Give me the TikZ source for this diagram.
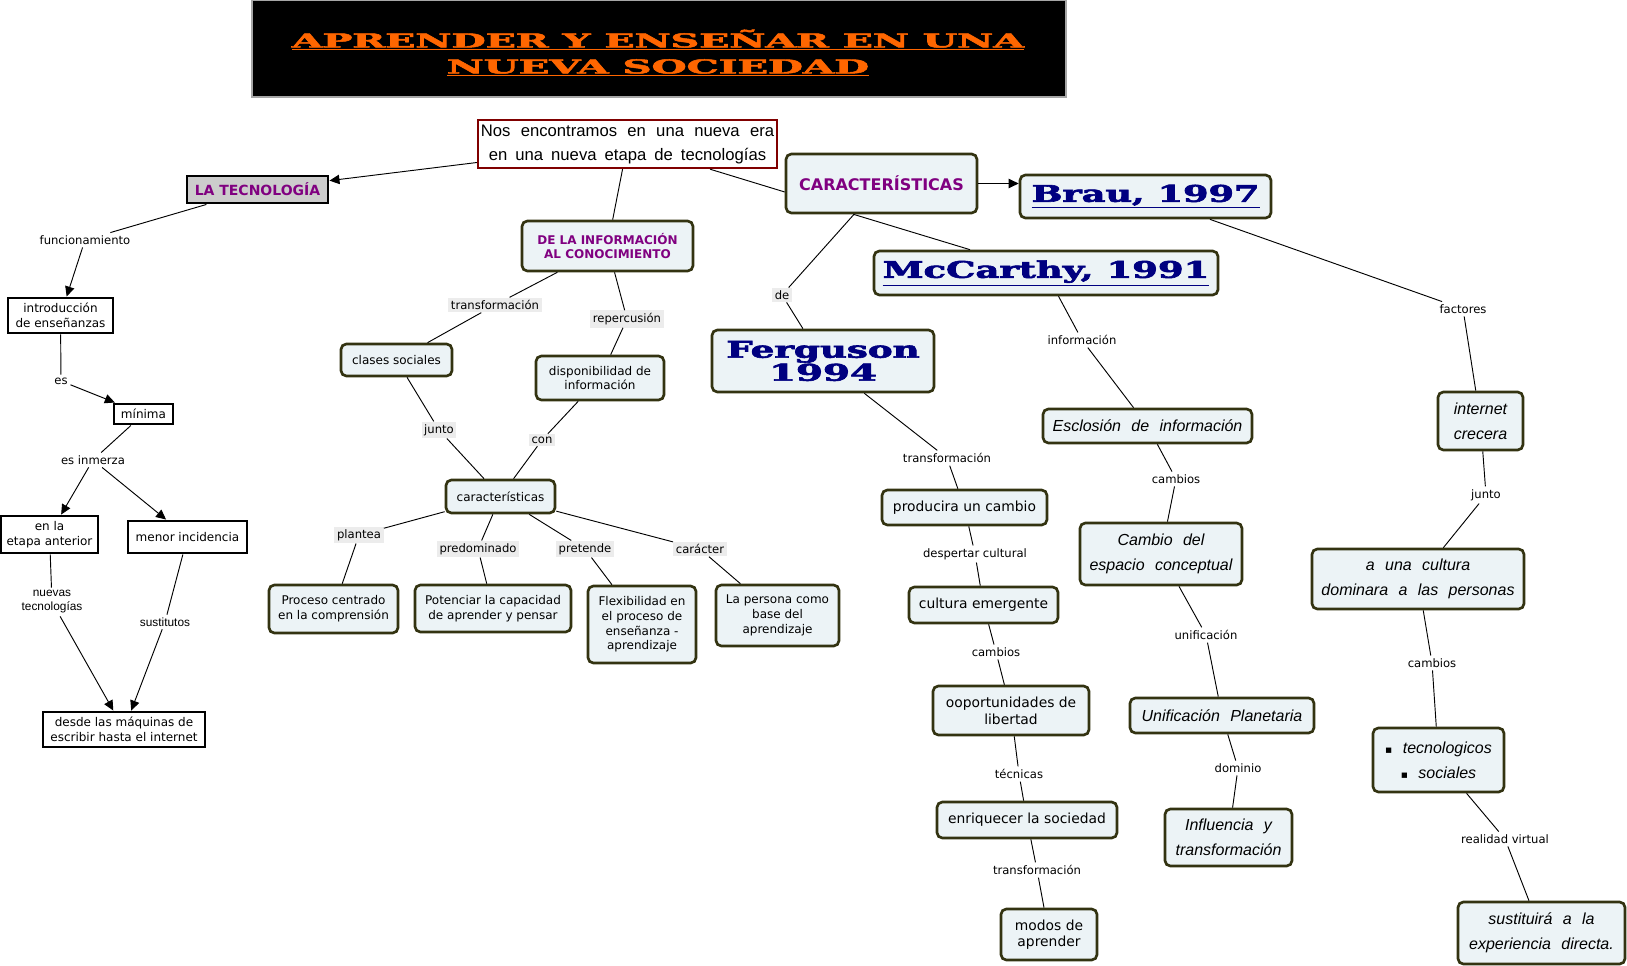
\documentclass[tikz,border=0pt]{standalone}
\usepackage{fontspec}
\setmainfont{DejaVu Sans}
\newfontfamily\arialfont{Liberation Sans}
\newfontfamily\slabfont{DejaVu Serif}[BoldFeatures={FakeBold=2.5}]
\usepackage{graphicx}
\usepackage{xcolor}
\usetikzlibrary{arrows.meta, calc}

\definecolor{titleOrange}{RGB}{255,102,0}
\definecolor{conceptFill}{RGB}{236,243,246}
\definecolor{conceptLine}{RGB}{51,51,17}
\definecolor{rootLine}{RGB}{128,0,0}
\definecolor{headPurple}{RGB}{128,0,128}
\definecolor{citeNavy}{RGB}{0,0,128}
\definecolor{lblFill}{RGB}{236,236,236}
\definecolor{tecFill}{RGB}{204,204,204}

\newcommand\gap{\hspace{0.65em}}

\tikzset{
    % sizes are given in pixels of the original map
    boxSize/.style 2 args={minimum width=#1*0.75pt, minimum height=#2*0.75pt},
    % Boxes
    titleBox/.style={rectangle, fill=black, draw=gray!70, line width=1pt, inner sep=0pt},
    titleText/.style={align=center, inner sep=0pt, text=titleOrange,
                      font=\slabfont\bfseries\fontsize{14.3}{19.5}\selectfont},
    rootBox/.style={rectangle, draw=rootLine, line width=1.8pt, fill=white, align=center,
                    inner sep=0pt, font=\arialfont\fontsize{12.5}{18}\selectfont},
    plainBox/.style={rectangle, draw=black, line width=2.2pt, fill=white, align=center,
                     inner sep=0pt, font=\fontsize{9}{11}\selectfont},
    tecBox/.style={plainBox, fill=tecFill, text=headPurple,
                   font=\bfseries\fontsize{10.5}{12}\selectfont},
    concept/.style={rectangle, rounded corners=4pt, line width=2pt, draw=conceptLine,
                    fill=conceptFill, align=center, inner sep=0pt,
                    font=\fontsize{9}{11}\selectfont},
    head/.style={concept, text=headPurple, font=\bfseries\fontsize{9}{10.5}\selectfont},
    bigText/.style={font=\fontsize{10.4}{12.5}\selectfont},
    ital/.style={font=\arialfont\itshape\fontsize{12}{18.5}\selectfont},
    cite/.style={concept, text=citeNavy, font=\slabfont\bfseries\fontsize{17.2}{17.25}\selectfont},
    % Links & labels
    lbl/.style={inner sep=2pt, font=\fontsize{8.7}{10.5}\selectfont, align=center},
    lblGray/.style={lbl, fill=lblFill},
    lblArial/.style={lbl, font=\arialfont\fontsize{8.9}{10.5}\selectfont},
    flow/.style={line width=0.7pt, black},
    flowArrow/.style={flow, -{Triangle[length=7.5pt, width=7pt]}}
}

\begin{document}
\begin{tikzpicture}[x=0.75pt, y=-0.75pt]
\useasboundingbox (0,0) rectangle (1627,966);

% title
\node[titleBox, boxSize={814}{97}] (title) at (659,48.5) {};
\node[titleText] (titleLines) at (658,53)
    {\resizebox{549pt}{\height}{\underline{APRENDER Y ENSEÑAR EN UNA}}\\
     \resizebox{316.5pt}{\height}{\underline{NUEVA SOCIEDAD}}};

\node[rootBox, boxSize={299}{48}] (root) at (627.5,144)
    {\makebox[220pt][s]{Nos encontramos en una nueva era}\\
     \makebox[208pt][s]{en una nueva etapa de tecnologías}};

% left branch
\node[tecBox, boxSize={141}{27}] (tec) at (257.5,189.5) {LA TECNOLOGÍA};
\node[plainBox, boxSize={105}{35}] (intro) at (60.5,315.5) {introducción\\de enseñanzas};
\node[plainBox, boxSize={59}{20}] (minima) at (143.5,414) {mínima};
\node[plainBox, boxSize={97}{37}] (enLa) at (49.5,534.5) {en la\\etapa anterior};
\node[plainBox, boxSize={119}{32}] (menor) at (187.5,537) {menor incidencia};
\node[plainBox, boxSize={162}{35}] (desde) at (124,729.5) {desde las máquinas de\\escribir hasta el internet};

\node[lbl] (lFunc) at (85,240) {funcionamiento};
\node[lbl] (lEs) at (61,381) {es};
\node[lbl] (lInmerza) at (93,460) {es inmerza};
\node[lblArial] (lNuevas) at (52,602) {nuevas\\tecnologías};
\node[lblArial] (lSust) at (165,622) {sustitutos};

\draw[flowArrow] (root) -- (tec);
\draw[flow] (tec) -- (lFunc);
\draw[flowArrow] (lFunc) -- (intro);
\draw[flow] (intro) -- (lEs);
\draw[flowArrow] (lEs) -- (minima);
\draw[flow] (minima) -- (lInmerza);
\draw[flowArrow] (lInmerza) -- (enLa);
\draw[flowArrow] (lInmerza) -- (menor);
\draw[flow] (enLa) -- (lNuevas);
\draw[flowArrow] (lNuevas) -- (desde);
\draw[flow] (menor) -- (lSust);
\draw[flowArrow] (lSust) -- (desde);

% middle branch
\node[head, boxSize={171}{50}] (deLa) at (607.5,246) {DE LA INFORMACIÓN\\AL CONOCIMIENTO};
\node[concept, boxSize={111}{32}] (clases) at (396.5,360) {clases sociales};
\node[concept, boxSize={128}{44}] (dispon) at (600,378) {disponibilidad de\\información};
\node[concept, boxSize={109}{33}] (caract) at (500.5,496.5) {características};
\node[concept, boxSize={129}{48}] (proceso) at (333.5,609) {Proceso centrado\\en la comprensión};
\node[concept, boxSize={156}{47}] (potenciar) at (493,608.5) {Potenciar la capacidad\\de aprender y pensar};
\node[concept, boxSize={108}{77}] (flexib) at (642,624.5) {Flexibilidad en\\el proceso de\\enseñanza -\\aprendizaje};
\node[concept, boxSize={123}{61}] (persona) at (777.5,615.5) {La persona como\\base del\\aprendizaje};

\node[lblGray] (lTransfA) at (495,305) {transformación};
\node[lblGray] (lReperc) at (627,319) {repercusión};
\node[lblGray] (lJuntoA) at (439,430) {junto};
\node[lblGray] (lCon) at (542,440) {con};
\node[lblGray] (lPlantea) at (359,535) {plantea};
\node[lblGray] (lPredom) at (478,549) {predominado};
\node[lblGray] (lPretende) at (585,549) {pretende};
\node[lblGray] (lCaracter) at (700,549) {carácter};

\draw[flow] (root) -- (deLa);
\draw[flow] (deLa) -- (lTransfA) (lTransfA) -- (clases);
\draw[flow] (deLa) -- (lReperc) (lReperc) -- (dispon);
\draw[flow] (clases) -- (lJuntoA) (lJuntoA) -- (caract);
\draw[flow] (dispon) -- (lCon) (lCon) -- (caract);
\draw[flow] (caract) -- (lPlantea) (lPlantea) -- (proceso);
\draw[flow] (caract) -- (lPredom) (lPredom) -- (potenciar);
\draw[flow] (caract) -- (lPretende) (lPretende) -- (flexib);
\draw[flow] (caract) -- (lCaracter) (lCaracter) -- (persona);

% right branch
\node[head, boxSize={191}{59}, font=\bfseries\fontsize{12}{14}\selectfont] (carac) at (881.5,183.5) {CARACTERÍSTICAS};
\node[cite, boxSize={251}{43}] (brau) at (1145.5,196.5) {\resizebox{171pt}{\height}{\underline{Brau, 1997}}};
\node[cite, boxSize={344}{44}] (mccarthy) at (1046,273) {\resizebox{245pt}{\height}{\underline{McCarthy, 1991}}};
\node[cite, boxSize={222}{62}] (ferguson) at (823,361)
    {\resizebox{145pt}{\height}{Ferguson}\\\resizebox{81pt}{\height}{1994}};

\node[concept, bigText, boxSize={165}{35}] (producira) at (964.5,507.5) {producira un cambio};
\node[concept, bigText, boxSize={149}{36}] (culturaEm) at (983.5,605) {cultura emergente};
\node[concept, bigText, boxSize={156}{49}] (oportunidades) at (1011,710.5) {ooportunidades de\\libertad};
\node[concept, bigText, boxSize={180}{36}] (enriquecer) at (1027,820) {enriquecer la sociedad};
\node[concept, bigText, boxSize={96}{51}] (modos) at (1049,934.5) {modos de\\aprender};

\node[concept, ital, boxSize={209}{34}] (esclosion) at (1147.5,426) {Esclosión\gap de\gap información};
\node[concept, ital, boxSize={162}{62}] (cambioDel) at (1161,554) {Cambio\gap del\\espacio\gap conceptual};
\node[concept, ital, boxSize={184}{35}] (unificacion) at (1222,715.5) {Unificación\gap Planetaria};
\node[concept, ital, boxSize={127}{57}] (influencia) at (1228.5,837.5) {Influencia\gap y\\transformación};

\node[concept, ital, boxSize={85}{58}] (internet) at (1480.5,421) {internet\\crecera};
\node[concept, ital, boxSize={212}{60}] (aUna) at (1418,579) {a\gap una\gap cultura\\dominara\gap a\gap las\gap personas};
\node[concept, ital, boxSize={131}{64}] (tecnologicos) at (1438.5,760)
    {{\normalfont\upshape\fontsize{8}{10}\selectfont ▪}\gap tecnologicos\\{\normalfont\upshape\fontsize{8}{10}\selectfont ▪}\gap sociales};
\node[concept, ital, boxSize={167}{62}] (sustituira) at (1541.5,933) {sustituirá\gap a\gap la\\experiencia\gap directa.};

\node[lblGray] (lDe) at (782,295) {de};
\node[lbl] (lTransfB) at (947,458) {transformación};
\node[lbl] (lDespertar) at (975,554) {despertar cultural};
\node[lbl] (lCambiosA) at (996,652) {cambios};
\node[lbl] (lTecnicas) at (1019,774) {técnicas};
\node[lbl] (lTransfC) at (1037,870) {transformación};
\node[lbl] (lInfo) at (1082,340) {información};
\node[lbl] (lCambiosB) at (1176,479) {cambios};
\node[lbl] (lUnif) at (1206,635) {unificación};
\node[lbl] (lDominio) at (1238,768) {dominio};
\node[lbl] (lFactores) at (1463,309) {factores};
\node[lbl] (lJuntoB) at (1486,495) {junto};
\node[lbl] (lCambiosC) at (1432,663) {cambios};
\node[lbl] (lRealidad) at (1505,839) {realidad virtual};

\draw[flow] (root) -- (carac.185);
\draw[flowArrow] (carac.east) -- (brau.west |- carac.east);
\draw[flow] ($(carac.south)+(-28,0)$) -- ($(mccarthy.north)+(-76,0)$);
\draw[flow] (carac) -- (lDe) (lDe) -- (ferguson);

\draw[flow] (ferguson) -- (lTransfB) (lTransfB) -- (producira);
\draw[flow] (producira) -- (lDespertar) (lDespertar) -- (culturaEm);
\draw[flow] (culturaEm) -- (lCambiosA) (lCambiosA) -- (oportunidades);
\draw[flow] (oportunidades) -- (lTecnicas) (lTecnicas) -- (enriquecer);
\draw[flow] (enriquecer) -- (lTransfC) (lTransfC) -- (modos);

\draw[flow] (mccarthy) -- (lInfo) (lInfo) -- (esclosion);
\draw[flow] (esclosion) -- (lCambiosB) (lCambiosB) -- (cambioDel);
\draw[flow] (cambioDel) -- (lUnif) (lUnif) -- (unificacion);
\draw[flow] (unificacion) -- (lDominio) (lDominio) -- (influencia);

\draw[flow] (brau) -- (lFactores) (lFactores) -- (internet);
\draw[flow] (internet) -- (lJuntoB) (lJuntoB) -- (aUna);
\draw[flow] (aUna) -- (lCambiosC) (lCambiosC) -- (tecnologicos);
\draw[flow] (tecnologicos) -- (lRealidad) (lRealidad) -- (sustituira);

\end{tikzpicture}
\end{document}
